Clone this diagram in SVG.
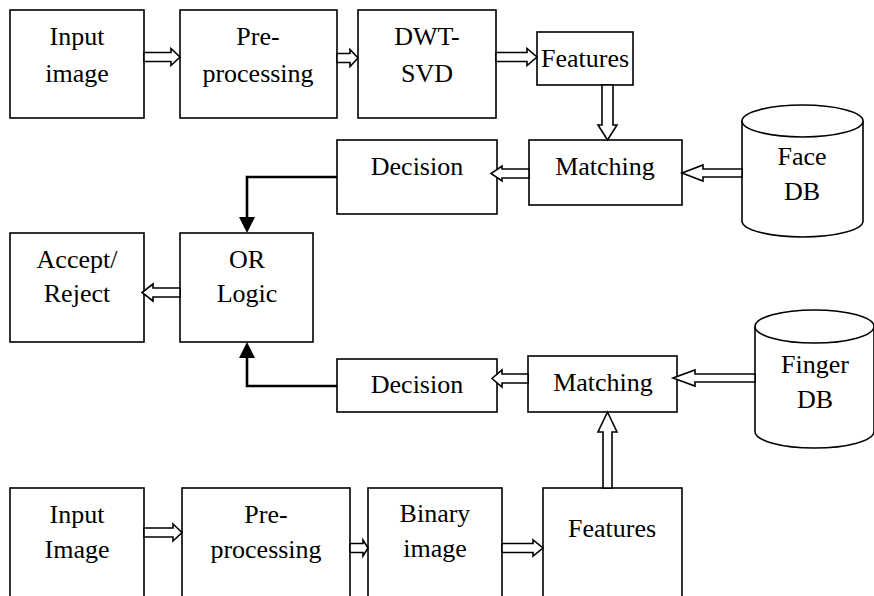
<svg xmlns="http://www.w3.org/2000/svg" width="874" height="596" viewBox="0 0 874 596">
  <style>
    .box { fill: #fff; stroke: #000; stroke-width: 1.6; }
    .db { fill: #fff; stroke: #000; stroke-width: 1.6; }
    .lbl { font-family: "Liberation Serif", "Times New Roman", serif; font-size: 26px; text-anchor: middle; fill: #000; }
    .hollow { fill: #fff; stroke: #000; stroke-width: 1.6; stroke-linejoin: miter; }
    .wire { fill: none; stroke: #000; stroke-width: 2.6; }
    .head { fill: #000; stroke: none; }
  </style>
  <rect width="874" height="596" fill="#fff"/>

  <!-- face branch -->
  <g id="face-input">
    <rect class="box" x="10" y="10" width="134" height="108"/>
    <text class="lbl" x="77" y="45">Input</text>
    <text class="lbl" x="77" y="82">image</text>
  </g>
  <g id="face-preprocessing">
    <rect class="box" x="180" y="10" width="157" height="108"/>
    <text class="lbl" x="258" y="45">Pre-</text>
    <text class="lbl" x="258" y="82">processing</text>
  </g>
  <g id="face-dwt-svd">
    <rect class="box" x="358" y="10" width="138" height="108"/>
    <text class="lbl" x="427" y="45">DWT-</text>
    <text class="lbl" x="427" y="82">SVD</text>
  </g>
  <g id="face-features">
    <rect class="box" x="537" y="32" width="96" height="53"/>
    <text class="lbl" x="585" y="67">Features</text>
  </g>
  <g id="face-matching">
    <rect class="box" x="529" y="140" width="153" height="65"/>
    <text class="lbl" x="605" y="175">Matching</text>
  </g>
  <g id="face-decision">
    <rect class="box" x="337" y="140" width="160" height="74"/>
    <text class="lbl" x="417" y="175">Decision</text>
  </g>
  <g id="face-db">
    <path class="db" d="M742,121 V221 A60.5,16 0 0 0 863,221 V121"/>
    <ellipse class="db" cx="802.5" cy="121" rx="60.5" ry="16"/>
    <text class="lbl" x="802" y="165">Face</text>
    <text class="lbl" x="802" y="200">DB</text>
  </g>

  <!-- fusion -->
  <g id="accept-reject">
    <rect class="box" x="10" y="233" width="134" height="109"/>
    <text class="lbl" x="77" y="268">Accept/</text>
    <text class="lbl" x="77" y="302">Reject</text>
  </g>
  <g id="or-logic">
    <rect class="box" x="180" y="233" width="133" height="109"/>
    <text class="lbl" x="247" y="268">OR</text>
    <text class="lbl" x="247" y="302">Logic</text>
  </g>

  <!-- finger branch -->
  <g id="finger-decision">
    <rect class="box" x="337" y="359" width="160" height="53"/>
    <text class="lbl" x="417" y="393">Decision</text>
  </g>
  <g id="finger-matching">
    <rect class="box" x="528" y="356" width="149" height="56"/>
    <text class="lbl" x="603" y="391">Matching</text>
  </g>
  <g id="finger-db">
    <path class="db" d="M755,326.5 V431.5 A59.5,16.5 0 0 0 874,431.5 V326.5"/>
    <ellipse class="db" cx="814.5" cy="326.5" rx="59.5" ry="16.5"/>
    <text class="lbl" x="815" y="373">Finger</text>
    <text class="lbl" x="815" y="408">DB</text>
  </g>
  <g id="finger-input">
    <rect class="box" x="10" y="488" width="134" height="112"/>
    <text class="lbl" x="77" y="523">Input</text>
    <text class="lbl" x="77" y="558">Image</text>
  </g>
  <g id="finger-preprocessing">
    <rect class="box" x="182" y="488" width="168" height="112"/>
    <text class="lbl" x="266" y="523">Pre-</text>
    <text class="lbl" x="266" y="558">processing</text>
  </g>
  <g id="finger-binary">
    <rect class="box" x="368" y="488" width="134" height="112"/>
    <text class="lbl" x="435" y="522">Binary</text>
    <text class="lbl" x="435" y="557">image</text>
  </g>
  <g id="finger-features">
    <rect class="box" x="543" y="488" width="139" height="112"/>
    <text class="lbl" x="612" y="537">Features</text>
  </g>

  <!-- connectors -->
  <g id="connectors">
    <!-- hollow block arrows -->
    <polygon class="hollow" points="144,52.5 171,52.5 171,48.5 180,57 171,65.5 171,61.5 144,61.5"/>
    <polygon class="hollow" points="337,53.5 350,53.5 350,49.5 358,58 350,66.5 350,62.5 337,62.5"/>
    <polygon class="hollow" points="496,52.5 527,52.5 527,48.5 537,57 527,65.5 527,61.5 496,61.5"/>
    <polygon class="hollow" points="602,85 602,125 598,125 607.5,140 617,125 613,125 613,85"/>
    <polygon class="hollow" points="529,169 502,169 502,166 491,173.5 502,181 502,178 529,178"/>
    <polygon class="hollow" points="742,169 703,169 703,165 682,173 703,181 703,177 742,177"/>
    <polygon class="hollow" points="180,288 153,288 153,284 142,292.5 153,301 153,297 180,297"/>
    <polygon class="hollow" points="528,374 502,374 502,370 492,378.5 502,387 502,383 528,383"/>
    <polygon class="hollow" points="755,374 695,374 695,370 673,378 695,386 695,382 755,382"/>
    <polygon class="hollow" points="144,528 173,528 173,524 182,532.5 173,541 173,537 144,537"/>
    <polygon class="hollow" points="350,543.5 363,543.5 363,540 368,548 363,556 363,552.5 350,552.5"/>
    <polygon class="hollow" points="502,543.5 533,543.5 533,540 543,548 533,556 533,552.5 502,552.5"/>
    <polygon class="hollow" points="603,488 603,432 598,432 607.5,412 617,432 612,432 612,488"/>
    <!-- decisions into OR logic -->
    <path class="wire" d="M337,177 H247 V218"/>
    <polygon class="head" points="239,217 255,217 247,233"/>
    <path class="wire" d="M337,386 H247 V357"/>
    <polygon class="head" points="239,358 255,358 247,342"/>
  </g>
</svg>
